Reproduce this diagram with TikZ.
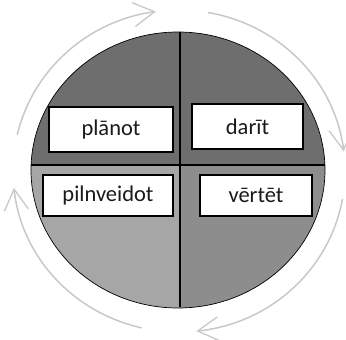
\documentclass[tikz,border=0pt]{standalone}
\usepackage{fontspec}
\setmainfont{Carlito}
\usetikzlibrary{arrows.meta}
\definecolor{qtop}{HTML}{6E6E6E}
\definecolor{qbl}{HTML}{A6A6A6}
\definecolor{qbr}{HTML}{8D8D8D}
\definecolor{cyc}{HTML}{C8C8C8}
\definecolor{ink}{HTML}{1A1A1A}
\tikzset{
  label box/.style={draw=black, line width=1.4pt, fill=white, inner sep=0pt,
    font=\fontsize{22.5}{26}\selectfont, text=ink},
  cycle arc/.style={draw=cyc, line width=1.5pt,
    -{Straight Barb[length=21pt,width=24pt,line width=1.3pt]}},
}
\begin{document}
\begin{tikzpicture}[x=1pt,y=1pt]
\useasboundingbox (0,0) rectangle (346,340);
% quadrants of the wheel
\begin{scope}
  \clip (178,170) ellipse [x radius=147, y radius=138];
  \fill[qtop] (20,175) rectangle (340,320);
  \fill[qbl] (20,175) rectangle (180,20);
  \fill[qbr] (180,175) rectangle (340,20);
\end{scope}
\draw[black, line width=0.7pt] (178,170) ellipse [x radius=147, y radius=138];
\coordinate (vt) at (180,307.5);
\coordinate (vb) at (180,32.5);
\coordinate (hl) at (31.2,175);
\coordinate (hr) at (324.8,175);
\draw[black, line width=1.2pt] (vt) -- (vb);
\draw[black, line width=1.2pt] (hl) -- (hr);
% labels
\node[label box, minimum width=124pt, minimum height=45pt] (plan) at (111,210.5) {plānot};
\node[label box, minimum width=111pt, minimum height=45pt] (do) at (247.5,213.5) {darīt};
\node[label box, minimum width=130pt, minimum height=41pt] (imp) at (108,144.5) {pilnveidot};
\node[label box, minimum width=112pt, minimum height=41pt] (eval) at (256,144.5) {vērtēt};
% cycle arrows around the wheel
\coordinate (a1) at ({179+166*cos(167)},{169+161*sin(167)});
\coordinate (a2) at ({179+166*cos(80)},{169+161*sin(80)});
\coordinate (a3) at ({179+166*cos(-10)},{169+161*sin(-10)});
\coordinate (a4) at ({179+166*cos(257)},{169+161*sin(257)});
\draw[cycle arc] (a1) arc[start angle=167, end angle=98, x radius=166, y radius=161];
\draw[cycle arc] (a2) arc[start angle=80, end angle=7, x radius=166, y radius=161];
\draw[cycle arc] (a3) arc[start angle=-10, end angle=-84, x radius=166, y radius=161];
\draw[cycle arc] (a4) arc[start angle=257, end angle=186, x radius=166, y radius=161];
\end{tikzpicture}
\end{document}
